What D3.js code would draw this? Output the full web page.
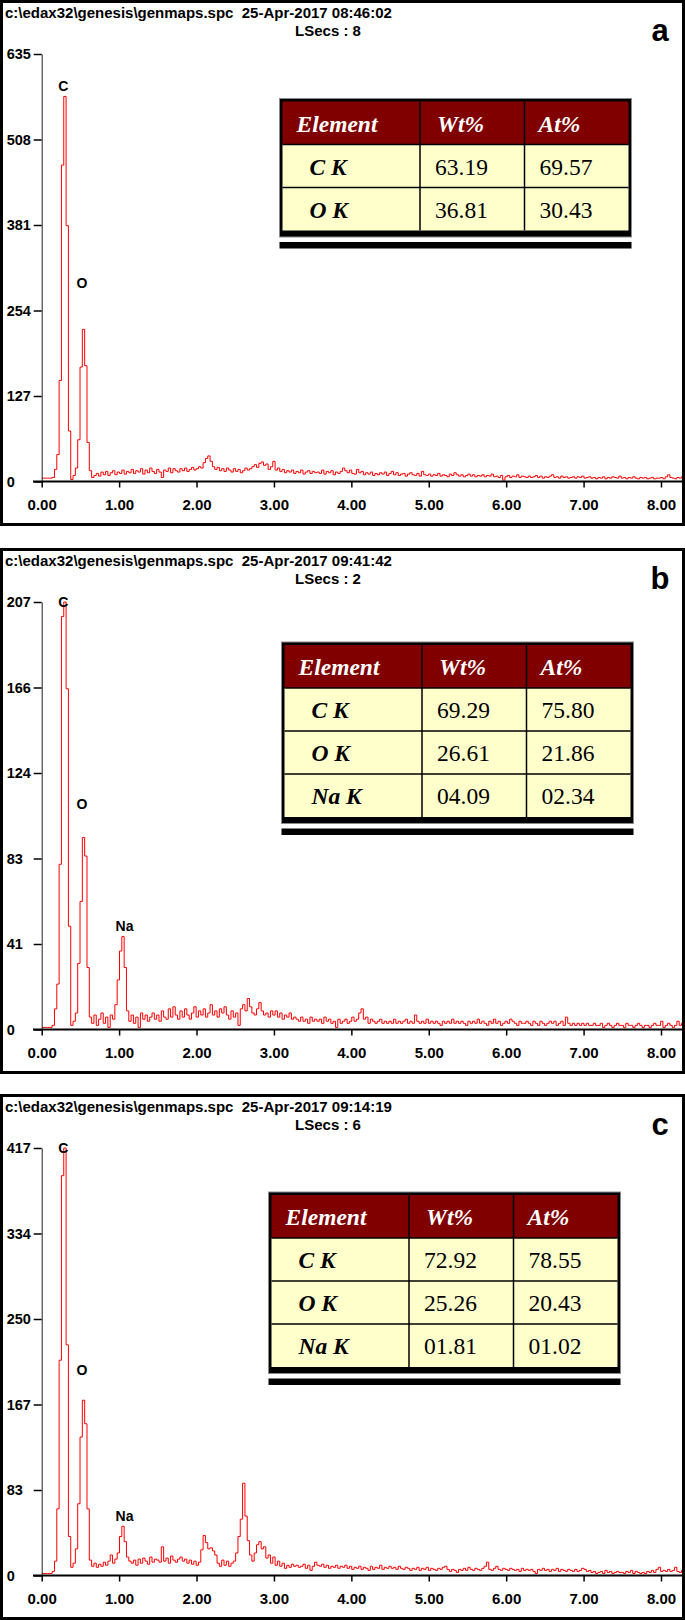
<!DOCTYPE html>
<html>
<head>
<meta charset="utf-8">
<script src="https://cdn.jsdelivr.net/npm/d3@7"></script>
<style>
  body { margin: 0; background: #fff; }
  svg { display: block; }
  .sans { font-family: "Liberation Sans", Arial, sans-serif; font-weight: bold; }
  .serif { font-family: "Liberation Serif", "Times New Roman", serif; }
</style>
</head>
<body>
<script>
let width = 685, height = 1620;

// ---- data ----
const channelWidth = 0.03; // keV per channel
const xTicks = [0, 1, 2, 3, 4, 5, 6, 7, 8];

const titles = [
  "c:\\edax32\\genesis\\genmaps.spc  25-Apr-2017 08:46:02",
  "c:\\edax32\\genesis\\genmaps.spc  25-Apr-2017 09:41:42",
  "c:\\edax32\\genesis\\genmaps.spc  25-Apr-2017 09:14:19"
];
const lsecs = ["LSecs : 8", "LSecs : 2", "LSecs : 6"];
const panelLetters = ["a", "b", "c"];
const yMaxes = [635, 207, 417];
const yTickLabels = [
  ["0", "127", "254", "381", "508", "635"],
  ["0", "41", "83", "124", "166", "207"],
  ["0", "83", "167", "250", "334", "417"]
];

// counts per channel, 0.00 keV upward
const countsA = [
  5,5,5,5,5,6,18,40,150,470,
  572,380,75,3,9,20,62,170,226,172,
  58,16,6,9,12,8,14,10,15,9,
  13,16,10,14,12,17,11,15,13,18,
  12,16,14,19,11,17,13,20,15,12,
  18,14,6,17,15,20,13,19,16,14,
  19,16,20,15,18,21,17,19,22,20,
  28,34,38,30,22,18,21,16,19,15,
  20,17,14,19,15,18,13,16,20,17,
  19,22,25,21,27,29,24,26,18,22,
  30,17,20,15,18,13,16,14,17,12,
  15,13,17,11,14,16,12,15,13,14,
  12,17,11,15,13,16,10,14,12,15,
  20,16,13,17,12,11,18,13,15,10,
  13,11,14,9,12,10,13,11,14,9,
  12,15,10,13,9,11,12,8,11,13,
  10,9,12,8,15,10,9,11,8,10,
  9,12,8,10,9,7,11,9,13,10,
  8,10,7,9,11,8,10,7,9,8,
  10,7,9,8,11,7,8,6,9,2,
  7,9,6,8,7,10,6,8,7,6,
  8,6,7,9,6,8,5,7,6,8,
  10,6,7,5,8,6,7,5,6,7,
  5,7,6,8,5,6,7,5,6,4,
  6,5,7,4,6,5,7,6,5,8,
  5,6,4,6,5,7,5,4,6,5,
  6,4,5,6,4,5,5,6,4,7,
  10,6,5,4,6,5,7
];
const countsB = [
  1,1,1,1,1,2,10,22,80,200,
  207,165,50,2,4,8,32,62,93,84,
  30,6,3,7,2,5,8,3,6,1,
  7,5,12,24,38,45,30,9,4,7,
  3,6,1,8,5,7,4,6,8,5,
  7,4,9,6,5,10,6,11,7,5,
  9,6,10,7,5,8,11,6,9,7,
  10,6,8,12,7,9,6,10,8,11,
  7,5,9,6,8,2,10,12,9,15,
  11,8,7,10,13,9,7,8,6,9,
  7,9,6,8,5,7,6,8,5,6,
  5,4,6,4,5,3,6,4,5,4,
  5,3,6,4,5,3,4,1,5,3,
  4,5,3,4,6,4,5,8,10,5,
  6,3,5,4,3,4,5,3,4,3,
  4,3,5,3,4,3,4,5,3,4,
  3,7,4,3,4,3,5,3,4,3,
  4,3,2,4,3,4,3,5,3,4,
  3,4,3,2,4,3,4,3,5,3,
  4,3,2,4,3,5,3,4,2,3,
  4,3,5,4,3,2,4,3,3,4,
  3,2,4,3,2,4,3,2,3,4,
  3,4,2,3,4,2,6,3,2,3,
  2,3,2,3,2,3,2,2,3,2,
  2,3,1,2,3,2,1,2,3,2,
  2,1,3,2,2,1,2,3,2,1,
  2,2,1,2,3,2,2,4,1,2,
  3,2,1,2,4,2,3
];
const countsC = [
  2,2,2,2,2,4,14,65,210,390,
  417,225,38,8,12,26,70,135,171,148,
  65,15,9,12,8,11,9,13,10,14,
  20,12,16,22,38,48,33,18,14,12,
  15,10,16,12,17,14,11,18,13,16,
  15,13,28,14,17,12,19,15,13,16,
  18,14,16,12,15,11,14,10,13,25,
  39,32,26,27,24,20,12,9,15,10,
  14,9,12,14,22,38,55,90,58,34,
  20,14,22,30,33,26,28,17,20,12,
  18,10,14,9,12,7,10,8,11,9,
  10,8,9,11,7,10,5,9,13,10,
  9,11,8,10,7,9,8,10,7,9,
  8,10,7,9,6,8,7,9,6,8,
  7,5,9,6,8,7,10,6,8,7,
  9,7,8,6,9,7,6,8,7,5,
  7,6,8,5,7,6,8,5,7,6,
  5,7,6,8,9,6,4,6,5,3,
  6,5,7,5,8,6,5,7,6,5,
  7,9,13,6,5,7,9,6,5,7,
  6,5,7,6,5,6,4,7,5,6,
  5,6,4,2,6,5,7,5,6,4,
  6,5,7,4,6,5,4,6,5,4,
  6,4,5,7,6,4,5,3,4,2,
  3,4,2,5,3,4,2,3,4,3,
  3,2,4,3,5,2,4,3,2,3,
  2,4,3,5,3,6,8,4,5,4,
  6,4,5,8,4,3,5
];
const spectra = [countsA, countsB, countsC];

// peak labels: element, energy (keV), label height (counts)
const peakNames = [["C", "O"], ["C", "O", "Na"], ["C", "O", "Na"]];
const peakEnergies = [[0.28, 0.52], [0.28, 0.52, 1.07], [0.28, 0.52, 1.07]];
const peakLabelCounts = [[587, 295], [207, 109, 50], [417, 200, 58]];

// quantification tables
const tableHeader = ["Element", "Wt%", "At%"];
const tableElements = [["C K", "O K"], ["C K", "O K", "Na K"], ["C K", "O K", "Na K"]];
const wtPct = [["63.19", "36.81"], ["69.29", "26.61", "04.09"], ["72.92", "25.26", "01.81"]];
const atPct = [["69.57", "30.43"], ["75.80", "21.86", "02.34"], ["78.55", "20.43", "01.02"]];

// ---- layout ----
const panelTops = [0, 548, 1094];
const panelH = 526;
const plotTop = 54, plotBottom = 481.5;
const tableLefts = [279.5, 281.5, 268.5];
const tableTops = [98.5, 94, 98];
const colWidths = [140.5, 104.5, 107];
const rowH = 43;

let svg = d3.select("body").append("svg")
    .attr("width", width)
    .attr("height", height);

let x = d3.scaleLinear().domain([0, 8]).range([41.7, 661]);

panelTops.forEach(function(py, p) {
  let g = svg.append("g");

  // frame
  g.append("rect")
    .attr("x", 1.5).attr("y", py + 1.5)
    .attr("width", width - 3).attr("height", panelH - 3)
    .attr("fill", "#fff").attr("stroke", "#000").attr("stroke-width", 3);

  // header texts
  g.append("text").attr("class", "sans")
    .attr("x", 5).attr("y", py + 18)
    .style("font-size", "15px").style("white-space", "pre")
    .text(titles[p]);
  g.append("text").attr("class", "sans")
    .attr("x", 328).attr("y", py + 36)
    .attr("text-anchor", "middle")
    .style("font-size", "15px").style("white-space", "pre")
    .text(lsecs[p]);
  g.append("text").attr("class", "sans")
    .attr("x", 660).attr("y", py + 41)
    .attr("text-anchor", "middle")
    .style("font-size", "31px")
    .text(panelLetters[p]);

  let y = d3.scaleLinear().domain([0, yMaxes[p]]).range([py + plotBottom, py + plotTop]);

  // spectrum
  let clipId = "clip" + p;
  svg.append("clipPath").attr("id", clipId)
    .append("rect")
      .attr("x", 41.7).attr("y", py + plotTop - 2)
      .attr("width", 682 - 41.7).attr("height", plotBottom - plotTop + 2);

  let line = d3.line()
    .x(function(d, i) { return x(i * channelWidth); })
    .y(function(d) { return y(d); })
    .curve(d3.curveStep);

  g.append("path")
    .datum(spectra[p])
    .attr("clip-path", "url(#" + clipId + ")")
    .attr("fill", "none")
    .attr("stroke", "#ff0000")
    .attr("stroke-width", 1)
    .attr("d", line);

  // y axis
  let yTickVals = d3.range(6).map(function(k) { return yMaxes[p] * k / 5; });
  let yAxis = g.append("g").attr("class", "sans")
    .attr("transform", "translate(41.7,0)")
    .call(d3.axisLeft(y).tickValues(yTickVals).tickSize(8).tickSizeOuter(0)
      .tickFormat(function(d, i) { return yTickLabels[p][i]; }));
  yAxis.select(".domain").attr("stroke", "#222").attr("stroke-width", 1);
  yAxis.selectAll(".tick line").attr("stroke", "#000").attr("stroke-width", 1.5);
  yAxis.selectAll(".tick text")
    .attr("x", -35).attr("text-anchor", "start")
    .style("font-size", "14.5px").style("font-family", "inherit")
    .attr("fill", "#000");

  // x axis
  let xAxis = g.append("g").attr("class", "sans")
    .attr("transform", "translate(0," + (py + plotBottom) + ")")
    .call(d3.axisBottom(x).tickValues(xTicks).tickSize(6).tickSizeOuter(0)
      .tickFormat(d3.format(".2f")));
  xAxis.select(".domain").remove();
  xAxis.append("line")
    .attr("x1", 33).attr("x2", 682)
    .attr("stroke", "#000").attr("stroke-width", 2);
  xAxis.selectAll(".tick line").attr("stroke", "#000").attr("stroke-width", 1.5);
  xAxis.selectAll(".tick text")
    .attr("y", 18)
    .style("font-size", "15px").style("font-family", "inherit")
    .attr("fill", "#000");

  // peak labels
  peakNames[p].forEach(function(name, k) {
    g.append("text").attr("class", "sans")
      .attr("x", x(peakEnergies[p][k]))
      .attr("y", y(peakLabelCounts[p][k]))
      .attr("dy", "0.35em")
      .attr("text-anchor", "middle")
      .style("font-size", "14px")
      .text(name);
  });

  // table
  drawTable(g, tableLefts[p], py + tableTops[p], p);
});

function drawTable(g, left, top, p) {
  let nRows = tableElements[p].length;
  let tw = d3.sum(colWidths);
  let inner = 3;
  let bodyH = rowH * (nRows + 1);
  let colX = [left + inner];
  colX.push(colX[0] + colWidths[0] - inner);
  colX.push(colX[1] + colWidths[1]);

  // frame (gray rim, black frame with thick bottom)
  g.append("rect")
    .attr("x", left).attr("y", top)
    .attr("width", tw).attr("height", inner + bodyH + 6.5)
    .attr("fill", "#000").attr("stroke", "#8a8a8a").attr("stroke-width", 1);

  // header row
  g.append("rect")
    .attr("x", left + inner).attr("y", top + inner)
    .attr("width", tw - 2 * inner).attr("height", rowH)
    .attr("fill", "#800000");
  // body rows
  g.append("rect")
    .attr("x", left + inner).attr("y", top + inner + rowH)
    .attr("width", tw - 2 * inner).attr("height", rowH * nRows)
    .attr("fill", "#ffffcc");

  // grid
  for (let r = 1; r <= nRows; r++) {
    g.append("line")
      .attr("x1", left + inner).attr("x2", left + tw - inner)
      .attr("y1", top + inner + r * rowH).attr("y2", top + inner + r * rowH)
      .attr("stroke", "#000").attr("stroke-width", 1.5);
  }
  [colX[1], colX[2]].forEach(function(cx) {
    g.append("line")
      .attr("x1", cx).attr("x2", cx)
      .attr("y1", top + inner).attr("y2", top + inner + bodyH)
      .attr("stroke", "#000").attr("stroke-width", 1.5);
  });

  // separate bar beneath
  g.append("rect")
    .attr("x", left).attr("y", top + inner + bodyH + 11.5)
    .attr("width", tw).attr("height", 6.5)
    .attr("fill", "#000");

  // header text
  let hx = [left + 17, colX[1] + 17, colX[2] + 14];
  tableHeader.forEach(function(h, c) {
    g.append("text").attr("class", "serif")
      .attr("x", hx[c]).attr("y", top + inner + rowH / 2 + 8.5)
      .style("font-size", "23.5px").style("font-weight", "bold").style("font-style", "italic")
      .attr("fill", "#fff")
      .text(h);
  });

  // body text
  for (let r = 0; r < nRows; r++) {
    let by = top + inner + rowH * (r + 1) + rowH / 2 + 8.5;
    g.append("text").attr("class", "serif")
      .attr("x", left + 30).attr("y", by)
      .style("font-size", "23.5px").style("font-weight", "bold").style("font-style", "italic")
      .style("white-space", "pre")
      .text(tableElements[p][r]);
    g.append("text").attr("class", "serif")
      .attr("x", colX[1] + 15).attr("y", by)
      .style("font-size", "23.5px")
      .text(wtPct[p][r]);
    g.append("text").attr("class", "serif")
      .attr("x", colX[2] + 15).attr("y", by)
      .style("font-size", "23.5px")
      .text(atPct[p][r]);
  }
}
</script>
</body>
</html>
